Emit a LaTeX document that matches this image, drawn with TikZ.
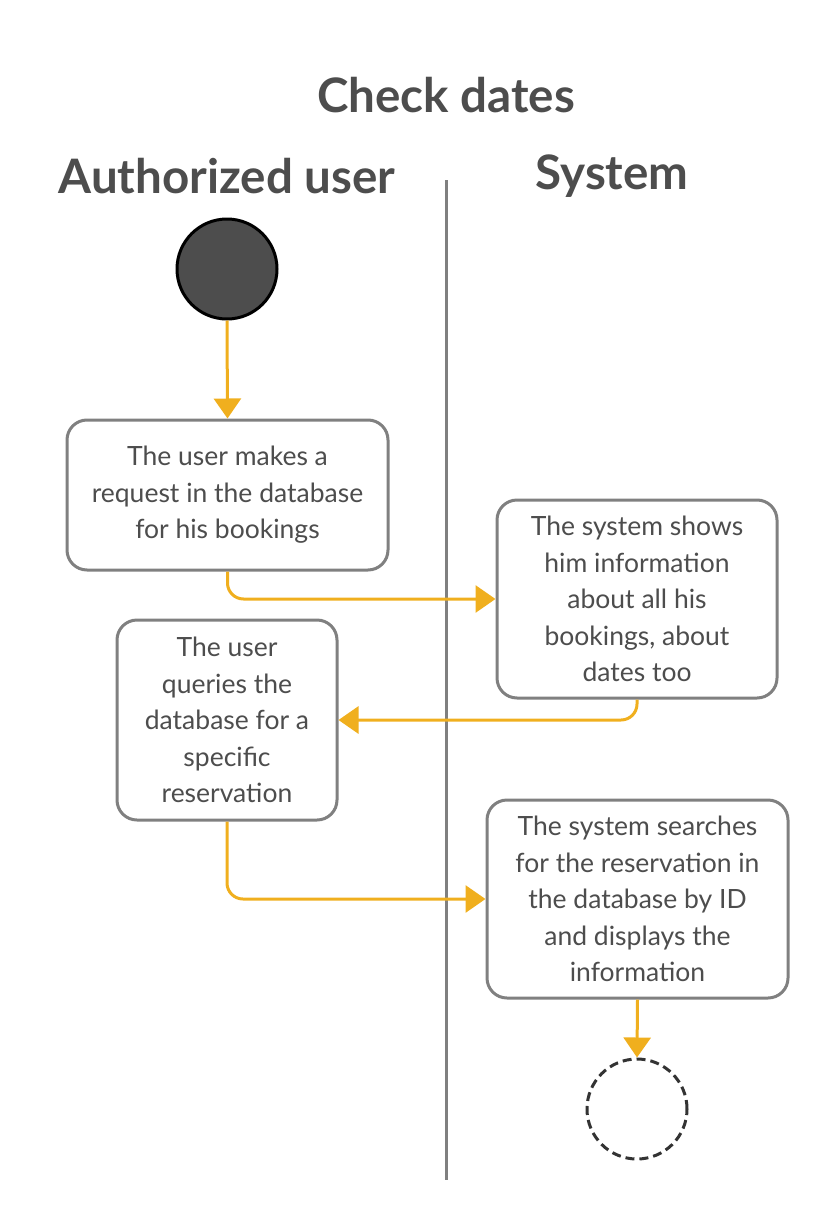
\documentclass[tikz,border=0pt]{standalone}
\usepackage{fontspec}
\setmainfont{Lato}
\usetikzlibrary{arrows.meta}
\definecolor{txtgray}{HTML}{4D4D4D}
\definecolor{boxgray}{HTML}{808080}
\definecolor{flowyel}{HTML}{F0AF1E}
\begin{document}
\begin{tikzpicture}[
        x={(1pt,0pt)},
        y={(0pt,-1pt)},
        line join=round,
        % 样式
        act/.style={draw=boxgray, line width=3pt, rounded corners=20pt,
            fill=white, text=txtgray, align=center,
            font=\fontsize{26.5}{36.5}\selectfont, inner sep=0pt},
        flow/.style={draw=flowyel, line width=3pt, rounded corners=16pt,
            -{Triangle[width=27pt,length=20pt]}},
        title/.style={text=txtgray, font=\bfseries\fontsize{47.5}{50}\selectfont},
    ]

    \useasboundingbox (0,0) rectangle (828,1220);

    % ---- 标题与泳道 ----
    \node[title] (ttl) at (446,95) {Check dates};
    \node[title] (laneU) at (227,176) {Authorized user};
    \node[title] (laneS) at (612,176) {System};
    \coordinate (divTop) at (446,180);
    \coordinate (divBot) at (446,1180);
    \draw[boxgray, line width=3pt] (divTop) -- (divBot);

    % ---- 起点 / 终点 ----
    \node[circle, fill=txtgray, draw=black, line width=3pt,
        minimum size=100pt, inner sep=0pt] (start) at (227,269) {};
    \node[circle, draw=black!80, dashed, dash pattern=on 9pt off 5pt,
        line width=3pt, minimum size=100pt, inner sep=0pt] (stop) at (637,1109) {};

    % ---- 活动 ----
    \node[act, minimum width=321pt, minimum height=150pt] (req) at (227.5,495)
        {The user makes a\\request in the database\\for his bookings};
    \node[act, minimum width=280pt, minimum height=198pt] (show) at (637,599)
        {The system shows\\him information\\about all his\\bookings, about\\dates too};
    \node[act, minimum width=220pt, minimum height=200pt] (query) at (227,720)
        {The user\\queries the\\database for a\\specific\\reservation};
    \node[act, minimum width=301pt, minimum height=198pt] (search) at (637.5,899)
        {The system searches\\for the reservation in\\the database by ID\\and displays the\\information};

    % ---- 连线 ----
    \draw[flow] (start.south) -- (req.north);
    \draw[flow] (req.south) |- (show.west);
    \draw[flow] (show.south) |- (query.east);
    \draw[flow] (query.south) |- (search.west);
    \draw[flow] (search.south) -- (stop.north);

\end{tikzpicture}
\end{document}
